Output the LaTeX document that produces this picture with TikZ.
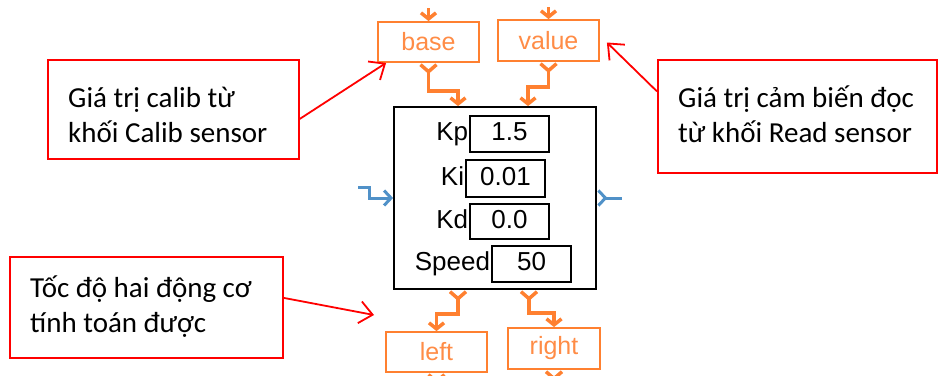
\documentclass[tikz,border=0pt]{standalone}
\usepackage{fontspec}
\setmainfont{Carlito}
\newfontfamily\blockfont{Liberation Sans}
\usetikzlibrary{arrows.meta}

\definecolor{wirecol}{RGB}{255,128,48}
\definecolor{portcol}{RGB}{255,140,70}
\definecolor{sigcol}{RGB}{80,145,200}
\definecolor{notecol}{RGB}{255,0,0}

\tikzset{
  notebox/.style={draw=notecol, line width=1.8pt, fill=white, inner sep=0pt, anchor=north west},
  notetext/.style={anchor=base west, inner sep=0pt, font=\fontsize{29}{35}\selectfont},
  notearrow/.style={draw=notecol, line width=1.8pt, -{Straight Barb[length=13pt,width=22pt]}},
  portbox/.style={draw=wirecol, line width=1.8pt, text=portcol, inner sep=0pt,
    font=\blockfont\fontsize{25}{28}\selectfont},
  field/.style={draw, line width=1.5pt, minimum width=79pt, inner sep=0pt,
    text height=18pt, text depth=5pt, font=\blockfont\fontsize{26}{28}\selectfont},
  fieldlabel/.style={anchor=east, inner sep=1pt, text height=18pt, text depth=5pt,
    font=\blockfont\fontsize{26}{28}\selectfont},
  wire/.style={draw=wirecol, line width=3.5pt,
    {Straight Barb[reversed,length=7pt,width=16pt]}-{Straight Barb[length=6pt,width=15pt]}},
  wirein/.style={draw=wirecol, line width=3.5pt, -{Straight Barb[length=6pt,width=15pt]}},
  wireout/.style={draw=wirecol, line width=3.5pt, {Straight Barb[reversed,length=7pt,width=16pt]}-},
  sig/.style={draw=sigcol, line width=3pt}
}

\begin{document}
\begin{tikzpicture}[x=1pt,y=-1pt]
  \clip (0,0) rectangle (939,375);

  % block with its parameters
  \node[draw, line width=1.8pt, minimum width=202pt, minimum height=182pt, inner sep=0pt] (pid) at (495,198) {};
  \node[field, minimum height=36pt] at (509.5,134)   (kp)    {1.5};
  \node[field, minimum height=37pt] at (505.5,178.5) (ki)    {0.01};
  \node[field, minimum height=35pt] at (509.5,221.5) (kd)    {0.0};
  \node[field, minimum height=36pt] at (531.5,264)   (speed) {50};
  \node[fieldlabel] at (kp.west)    (kplabel)    {Kp};
  \node[fieldlabel] at (ki.west)    (kilabel)    {Ki};
  \node[fieldlabel] at (kd.west)    (kdlabel)    {Kd};
  \node[fieldlabel] at (speed.west) (speedlabel) {Speed};

  % ports
  \node[portbox, minimum width=101pt, minimum height=40pt] at (428.5,42)  (base)  {base};
  \node[portbox, minimum width=101pt, minimum height=41pt] at (548.5,40.5) (value) {value};
  \node[portbox, minimum width=101pt, minimum height=40pt] at (436.5,352) (left)  {left};
  \node[portbox, minimum width=92pt,  minimum height=41pt] at (554,348.5) (right) {right};

  \coordinate (basefrom)  at (428.5,8);
  \coordinate (valuefrom) at (548.5,7);
  \coordinate (sigfrom)   at (358,187);
  \coordinate (sigto)     at (622,198);

  \draw[wirein] (basefrom) -- (base.north);
  \draw[wirein] (valuefrom) -- (value.north);
  \draw[wire] (base.south) -- ++(0,28) -| ([xshift=-37pt]pid.north);
  \draw[wire] (value.south) -- ++(0,25) -| ([xshift=33pt]pid.north);
  \draw[wire] ([xshift=-37pt]pid.south) -- ++(0,24) -| (left.north);
  \draw[wire] ([xshift=34pt]pid.south) -- ++(0,23) -| (right.north);
  \draw[wireout] (left.south) -- ++(0,12);
  \draw[wireout] (right.south) -- ++(0,12);

  \draw[sig, -{Straight Barb[length=7pt,width=15pt]}] (sigfrom) -- ++(11,0) |- (pid.west);
  \draw[sig, {Straight Barb[reversed,length=7pt,width=15pt]}-] (pid.east) -- (sigto);

  % notes
  \node[notebox, minimum width=251pt, minimum height=99pt]  at (47,59)  (c1) {};
  \node[notebox, minimum width=279pt, minimum height=113pt] at (657,59) (c2) {};
  \node[notebox, minimum width=273pt, minimum height=101pt] at (9,256)  (c3) {};
  \node[notetext] at (68,107)  (c1a) {Giá trị calib từ};
  \node[notetext] at (68,142)  (c1b) {khối Calib sensor};
  \node[notetext] at (678,107) (c2a) {Giá trị cảm biến đọc};
  \node[notetext] at (678,142) (c2b) {từ khối Read sensor};
  \node[notetext] at (30,297)  (c3a) {Tốc độ hai động cơ};
  \node[notetext] at (30,332)  (c3b) {tính toán được};

  \coordinate (c3tip) at (374,315);
  \draw[notearrow] ([yshift=-9.5pt]c1.east) -- ([xshift=9pt]base.south west);
  \draw[notearrow] ([yshift=25pt]c2.west) -- ([xshift=7pt,yshift=-2pt]value.east);
  \draw[notearrow] ([yshift=9.5pt]c3.east) -- (c3tip);
\end{tikzpicture}
\end{document}
